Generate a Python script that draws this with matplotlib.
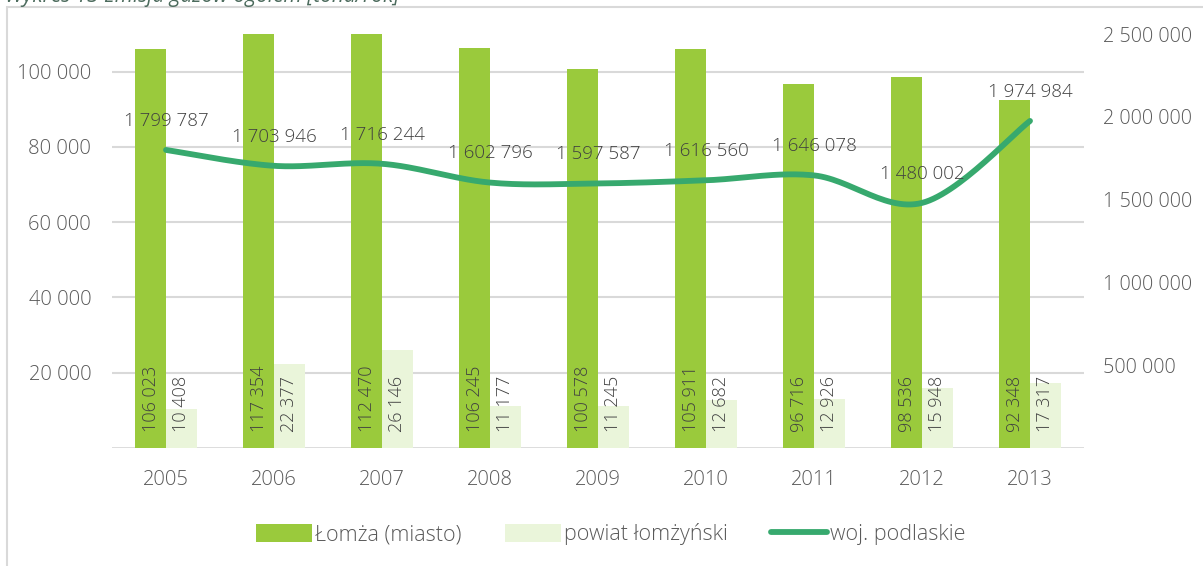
import numpy as np
import matplotlib
matplotlib.use("Agg")
import matplotlib.pyplot as plt
from matplotlib.patches import Rectangle
from matplotlib.lines import Line2D
from matplotlib.patches import Patch

plt.rcParams['font.family'] = ['Open Sans', 'DejaVu Sans']
plt.rcParams['font.weight'] = 'light'

years = ['2005', '2006', '2007', '2008', '2009', '2010', '2011', '2012', '2013']
lomza = [106023, 117354, 112470, 106245, 100578, 105911, 96716, 98536, 92348]
powiat = [10408, 22377, 26146, 11177, 11245, 12682, 12926, 15948, 17317]
podlaskie = [1799787, 1703946, 1716244, 1602796, 1597587, 1616560, 1646078, 1480002, 1974984]
series_names = ['Łomża (miasto)', 'powiat łomżyński', 'woj. podlaskie']
title = 'Wykres 13 Emisja gazów ogółem [tona/rok]'

C_GREEN = '#9ACA3C'
C_LIGHT = '#EAF5DA'
C_LINE = '#37A96E'
C_TEXT = '#595959'
C_LABEL = '#404040'
C_GRID = '#D9D9D9'


def fmt(v):
    return f'{v:,}'.replace(',', ' ')


def catmull_rom(x, y, n=30):
    x = np.asarray(x, float)
    y = np.asarray(y, float)
    px = np.concatenate([[x[0]], x, [x[-1]]])
    py = np.concatenate([[y[0]], y, [y[-1]]])
    xs, ys = [], []
    t = np.linspace(0, 1, n)
    for i in range(1, len(px) - 2):
        p0, p1, p2, p3 = (np.array([px[j], py[j]]) for j in (i - 1, i, i + 1, i + 2))
        c1 = p1 + (p2 - p0) / 6
        c2 = p2 - (p3 - p1) / 6
        b = ((1 - t) ** 3)[:, None] * p1 + (3 * (1 - t) ** 2 * t)[:, None] * c1 + \
            (3 * (1 - t) * t ** 2)[:, None] * c2 + (t ** 3)[:, None] * p2
        xs.append(b[:, 0])
        ys.append(b[:, 1])
    return np.concatenate(xs), np.concatenate(ys)


W, H = 1203, 566
fig = plt.figure(figsize=(W / 100, H / 100), dpi=100)

# outer chart frame (cropped at right and bottom)
fig.patches.append(Rectangle((7 / W, -0.1), 1.2, 1 - 7 / H + 0.1, transform=fig.transFigure,
                             fill=False, edgecolor=C_GRID, lw=1.5))
fig.text(5 / W, 1 - 2 / H, title, fontsize=15, style='italic', fontweight='normal',
         color='#4C6B5D', ha='left', va='baseline')

left, right, bottom, top = 112 / W, 1084 / W, 1 - 448 / H, 1 - 34 / H
ax = fig.add_axes([left, bottom, right - left, top - bottom])
ax2 = ax.twinx()

x = np.arange(len(years))
bw = 0.287
ax.bar(x - bw / 2, lomza, bw, color=C_GREEN, zorder=2)
ax.bar(x + bw / 2, powiat, bw, color=C_LIGHT, zorder=2)

ax.set_xlim(-0.5, len(years) - 0.5)
ax.set_ylim(0, 110000)
lt = [20000, 40000, 60000, 80000, 100000]
ax.set_yticks(lt)
ax.set_yticklabels([fmt(v) for v in lt])
ax.yaxis.grid(True, color=C_GRID, lw=1.5, zorder=0)
ax.set_axisbelow(True)
ax.axhline(0, color=C_GRID, lw=2, zorder=1)
ax.set_xticks(x)
ax.set_xticklabels(years)
for s in ax.spines.values():
    s.set_visible(False)
for s in ax2.spines.values():
    s.set_visible(False)
ax.tick_params(axis='both', length=0, labelsize=14.5, colors=C_TEXT)
ax.tick_params(axis='y', pad=15)
ax.tick_params(axis='x', pad=16)

for xi, v in zip(x, lomza):
    ax.annotate(fmt(v), (xi - bw / 2, 0), xytext=(0, 11.5), textcoords='offset points',
                rotation=90, ha='center', va='bottom', fontsize=13, color=C_LABEL,
                zorder=5, annotation_clip=False)
for xi, v in zip(x, powiat):
    ax.annotate(fmt(v), (xi + bw / 2, 0), xytext=(0, 11.5), textcoords='offset points',
                rotation=90, ha='center', va='bottom', fontsize=13, color=C_LABEL,
                zorder=5, annotation_clip=False)

ax2.set_ylim(0, 2500000)
rt = [500000, 1000000, 1500000, 2000000, 2500000]
ax2.set_yticks(rt)
ax2.set_yticklabels([fmt(v) for v in rt])
ax2.tick_params(axis='y', length=0, labelsize=14.2, colors=C_TEXT, pad=14)

sx, sy = catmull_rom(x, podlaskie)
ax2.plot(sx, sy, color=C_LINE, lw=4.2, solid_capstyle='round', zorder=3)
for xi, v in zip(x, podlaskie):
    ax2.annotate(fmt(v), (xi, v), xytext=(0, 21), textcoords='offset points',
                 ha='center', va='center', fontsize=13.5, color=C_LABEL, zorder=6)

handles = [Patch(facecolor=C_GREEN, edgecolor='none'),
           Patch(facecolor=C_LIGHT, edgecolor='none'),
           Line2D([0], [0], color=C_LINE, lw=4.2, solid_capstyle='round')]
leg = fig.legend(handles, series_names, loc='center', bbox_to_anchor=(611 / W, 1 - 534 / H),
                 ncol=3, frameon=False, fontsize=15.5, handlelength=2.6, handleheight=0.9,
                 handletextpad=0.15, columnspacing=2.0, labelcolor=C_TEXT)

fig.savefig('out.png', dpi=100)
